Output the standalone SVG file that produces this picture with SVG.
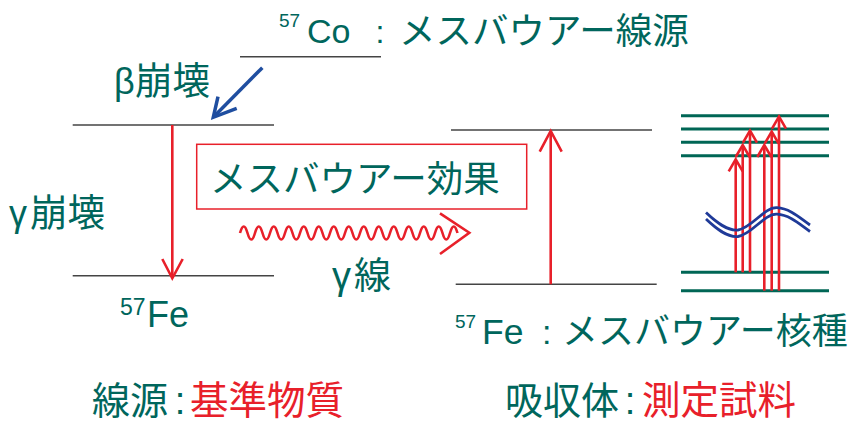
<svg xmlns="http://www.w3.org/2000/svg" width="855" height="421" viewBox="0 0 855 421">
<defs>
<style>
.t{fill:#00665C;font-family:"Liberation Sans","Noto Sans CJK JP",sans-serif}
.j{font-family:"Noto Sans CJK JP","Liberation Sans",sans-serif}
.r{fill:#E8202A}
.lv{stroke:#444;stroke-width:1.5;fill:none}
.gl{stroke:#006655;stroke-width:3;fill:none}
.ra{stroke:#E8202A;stroke-width:2.6;fill:none;stroke-linecap:butt;stroke-linejoin:miter}
.bw{stroke:#1F3A98;stroke-width:2.8;fill:none}
</style>
</defs>
<rect width="855" height="421" fill="#fff"/>

<g id="co-source">
<line class="lv" x1="240" y1="56.7" x2="381" y2="56.7"/>
<text class="t" x="279" y="26.7" font-size="19">57</text>
<text class="t" x="307" y="43" font-size="34">Co</text>
<text class="t" x="375.5" y="43" font-size="32">:</text>
<text class="t j" x="399" y="43.7" font-size="36.5">メスバウアー線源</text>
</g>

<g id="beta-label">
<text class="t" x="114" y="94" font-size="36">β</text>
<text class="t j" x="135" y="94" font-size="37.5">崩壊</text>
</g>

<g id="fe-excited-left">
<line class="lv" x1="72.7" y1="125" x2="274" y2="125"/>
</g>

<g id="gamma-label">
<text class="t" x="9" y="226" font-size="36">γ</text>
<text class="t j" x="30" y="226" font-size="37.5">崩壊</text>
</g>

<g id="fe-ground-left">
<line class="lv" x1="72.7" y1="275.7" x2="274" y2="275.7"/>
<text class="t" x="120" y="315" font-size="23">57</text>
<text class="t" x="147" y="327" font-size="36">Fe</text>
</g>

<g id="mossbauer-effect">
<rect x="196.7" y="144.3" width="330" height="64.7" fill="#fff" stroke="#E8202A" stroke-width="1.5"/>
<text class="t j" x="210" y="192" font-size="36.5">メスバウアー効果</text>
</g>

<g id="gamma-ray-label">
<text class="t" x="332" y="289" font-size="38">γ</text>
<text class="t j" x="354" y="289" font-size="37">線</text>
</g>

<g id="fe-absorber">
<line class="lv" x1="451" y1="130" x2="652" y2="130"/>
<line class="lv" x1="455.7" y1="284.3" x2="656.7" y2="284.3"/>
<text class="t" x="455" y="328" font-size="19">57</text>
<text class="t" x="482" y="344" font-size="35.5">Fe</text>
<text class="t" x="542" y="344" font-size="34">:</text>
<text class="t j" x="562" y="344" font-size="36">メスバウアー核種</text>
</g>

<g id="hyperfine-levels">
<line class="gl" x1="681" y1="115.7" x2="829" y2="115.7"/>
<line class="gl" x1="681" y1="129" x2="829" y2="129"/>
<line class="gl" x1="681" y1="142.3" x2="829" y2="142.3"/>
<line class="gl" x1="681" y1="155.7" x2="829" y2="155.7"/>
<line class="gl" x1="681" y1="272.3" x2="829" y2="272.3"/>
<line class="gl" x1="681" y1="290.7" x2="829" y2="290.7"/>
</g>

<g id="connectors">
<line x1="262.3" y1="67.7" x2="214.5" y2="116" stroke="#1F4EA0" stroke-width="3.5"/>
<polyline points="218,96.7 213.3,117.3 236.7,108.3" fill="none" stroke="#1F4EA0" stroke-width="3.5"/>
<line class="ra" x1="172.3" y1="125" x2="172.3" y2="277"/>
<polyline class="ra" points="162.3,259 172.3,278.3 182.7,259"/>
<path class="ra" d="M240,233 q3.75,-13 7.5,0 t7.5,0 t7.5,0 t7.5,0 t7.5,0 t7.5,0 t7.5,0 t7.5,0 t7.5,0 t7.5,0 t7.5,0 t7.5,0 t7.5,0 t7.5,0 t7.5,0 t7.5,0 t7.5,0 t7.5,0 t7.5,0 t7.5,0 t7.5,0 t7.5,0 t7.5,0 t7.5,0 t7.5,0 t7.5,0 t7.5,0 t7.5,0 t7.5,0"/>
<polyline class="ra" points="440,213.3 469.3,232.7 440,254" stroke-width="3"/>
<line class="ra" x1="550.7" y1="284.3" x2="550.7" y2="132"/>
<polyline class="ra" points="539.7,151.7 550.7,131 561.7,151.7"/>
<line class="ra" x1="735.7" y1="272.3" x2="735.7" y2="160.5"/>
<polyline class="ra" points="728.7,171.3 735.7,159.3 742.7,171.3"/>
<line class="ra" x1="742.7" y1="272.3" x2="742.7" y2="146"/>
<polyline class="ra" points="735.7,157 742.7,145 749.7,157"/>
<line class="ra" x1="750" y1="272.3" x2="750" y2="132"/>
<polyline class="ra" points="743,142.7 750,130.7 757,142.7"/>
<line class="ra" x1="764.3" y1="290.7" x2="764.3" y2="146"/>
<polyline class="ra" points="757.3,157 764.3,145 771.3,157"/>
<line class="ra" x1="771.7" y1="290.7" x2="771.7" y2="133"/>
<polyline class="ra" points="764.7,143.7 771.7,131.7 778.7,143.7"/>
<line class="ra" x1="779" y1="290.7" x2="779" y2="118"/>
<polyline class="ra" points="772,128.7 779,116.7 786,128.7"/>
<path class="bw" d="M706,212.5 C716,222 727,231 738,230 C752,228 764,207 777,207.7 C790,208.5 800,218 810,225"/>
<path class="bw" d="M706,219 C716,228.5 727,237.5 738,236.5 C752,234.5 764,213.5 777,214.2 C790,215 800,224.5 810,231.5"/>
</g>

<g id="source-caption">
<text class="t j" x="92" y="413.5" font-size="38">線源</text>
<text class="t" x="174.7" y="413.5" font-size="38">:</text>
<text class="t j r" x="190" y="413.5" font-size="38.5">基準物質</text>
</g>

<g id="absorber-caption">
<text class="t j" x="505" y="413.5" font-size="38">吸収体</text>
<text class="t" x="624.7" y="413.5" font-size="38">:</text>
<text class="t j r" x="642" y="413.5" font-size="38.5">測定試料</text>
</g>
</svg>
